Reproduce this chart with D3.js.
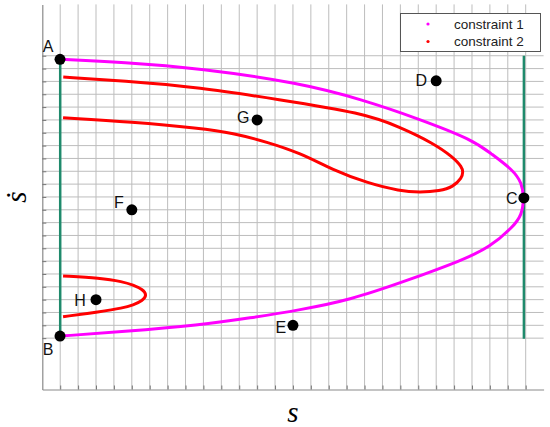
<!DOCTYPE html>
<html>
<head>
<meta charset="utf-8">
<script src="https://cdn.jsdelivr.net/npm/d3@7"></script>
<style>
  body { margin: 0; background: #fff; }
  svg text { font-family: "Liberation Sans", Arial, sans-serif; }
</style>
</head>
<body>
<div id="chart"></div>
<script>
// curves in grid units [s, sdot]

// constraint 1: one sweep from A round C to B
const constraint1 = [
  [0.99, 25.72], [4.5, 25.5], [8.81, 25.02], [14.39, 23.88], [17.91, 22.57],
  [21.0, 21.1], [24.06, 19.44], [25.01, 18.43], [26.29, 17.11], [26.79, 16.09],
  [26.9, 14.92], [26.79, 13.6], [26.29, 12.66], [25.01, 11.1], [23.5, 10.09],
  [20.3, 8.45], [17.19, 6.97], [14.4, 6.2], [11.6, 5.57], [8.81, 5.02],
  [4.5, 4.5], [0.99, 4.16]
];

// constraint 2, big loop: outer branch, tip, inner branch back to the left
const constraint2Big = [
  [1.17, 24.34], [4.5, 24.05], [8.81, 23.54], [13.16, 22.59], [17.91, 21.54],
  [19.98, 20.45], [21.82, 19.2], [22.94, 18.11], [23.44, 17.33], [23.5, 16.95],
  [23.44, 16.48], [22.94, 15.78], [22.21, 15.47], [21.1, 15.36], [19.98, 15.46],
  [18.14, 16.09], [16.24, 17.1], [14.39, 18.43], [12.55, 19.28], [10.65, 19.98],
  [8.81, 20.35], [5.0, 20.85], [1.16, 21.17]
];

// constraint 2, small loop round H
const constraint2Small = [
  [1.16, 8.84], [3.22, 8.69], [4.5, 8.4], [5.07, 8.14], [5.6, 7.8], [5.85, 7.36],
  [5.6, 6.92], [5.07, 6.58], [4.5, 6.35], [3.22, 6.06], [1.16, 5.67]
];

const bounds = [
  {s: 1, y0: 4.16, y1: 25.72},
  {s: 26.9, y0: 3.95, y1: 26.0}
];

const points = [
  {name: "A", s: 0.99, v: 25.72, dx: -12, dy: -7},
  {name: "B", s: 0.99, v: 4.16, dx: -12, dy: 19},
  {name: "C", s: 26.9, v: 14.92, dx: -12, dy: 6},
  {name: "D", s: 22, v: 24.05, dx: -15, dy: 5},
  {name: "E", s: 14, v: 5.0, dx: -12, dy: 8},
  {name: "F", s: 5, v: 14.0, dx: -13, dy: -2},
  {name: "G", s: 12, v: 21.0, dx: -14, dy: 3},
  {name: "H", s: 3, v: 7.0, dx: -16, dy: 6}
];

const legendItems = [
  {label: "constraint 1", color: "#ff00ff"},
  {label: "constraint 2", color: "#ff0000"}
];

const width = 550, height = 427;

let svg = d3.select("#chart").append("svg")
  .attr("width", width)
  .attr("height", height);

let x = d3.scaleLinear().domain([0, 28]).range([42.3, 543.6]);
let y = d3.scaleLinear().domain([0, 30]).range([389.5, 4.4]);

// grid
svg.append("g").selectAll("line")
  .data(d3.range(1, 28))
  .join("line")
  .attr("x1", d => x(d)).attr("x2", d => x(d))
  .attr("y1", y(30)).attr("y2", y(0))
  .attr("stroke", "#bdbdbd").attr("stroke-width", 1);

svg.append("g").selectAll("line")
  .data(d3.range(4, 27))
  .join("line")
  .attr("x1", x(0)).attr("x2", x(28))
  .attr("y1", d => y(d)).attr("y2", d => y(d))
  .attr("stroke", "#bdbdbd").attr("stroke-width", 1);

// axes, ticks point inwards
let xAxis = d3.axisBottom(x).tickValues(d3.range(1, 28)).tickSizeInner(-4).tickSizeOuter(0).tickFormat("");
let yAxis = d3.axisLeft(y).tickValues(d3.range(4, 27)).tickSizeInner(-4).tickSizeOuter(0).tickFormat("");

let gx = svg.append("g").attr("transform", "translate(0," + y(0) + ")").call(xAxis);
let gy = svg.append("g").attr("transform", "translate(" + x(0) + ",0)").call(yAxis);
[gx, gy].forEach(g => {
  g.select(".domain").attr("stroke", "#8a8a8a").attr("stroke-width", 1.2);
  g.selectAll(".tick line").attr("stroke", "#777");
});

// boundary lines
svg.append("g").selectAll("line")
  .data(bounds)
  .join("line")
  .attr("x1", d => x(d.s)).attr("x2", d => x(d.s))
  .attr("y1", d => y(d.y0)).attr("y2", d => y(d.y1))
  .attr("stroke", "#1f8a6c").attr("stroke-width", 2.5);

// curves (b-spline smooths out small reading errors)
let line = d3.line().x(d => x(d[0])).y(d => y(d[1])).curve(d3.curveBasis);

svg.append("path").datum(constraint1)
  .attr("d", line).attr("fill", "none")
  .attr("stroke", "#ff00ff").attr("stroke-width", 3);

[constraint2Big, constraint2Small].forEach(c => {
  svg.append("path").datum(c)
    .attr("d", line).attr("fill", "none")
    .attr("stroke", "#ff0000").attr("stroke-width", 3);
});

// points
svg.append("g").selectAll("circle")
  .data(points)
  .join("circle")
  .attr("cx", d => x(d.s)).attr("cy", d => y(d.v))
  .attr("r", 5.5).attr("fill", "#000");

svg.append("g").selectAll("text")
  .data(points)
  .join("text")
  .attr("x", d => x(d.s) + d.dx).attr("y", d => y(d.v) + d.dy)
  .attr("text-anchor", "middle")
  .attr("font-size", 16)
  .attr("fill", "#111")
  .text(d => d.name);

// legend
let lg = svg.append("g");
lg.append("rect")
  .attr("x", 400.5).attr("y", 13.5).attr("width", 140).attr("height", 38)
  .attr("fill", "#fff").attr("stroke", "#555").attr("stroke-width", 1);

lg.selectAll("circle")
  .data(legendItems)
  .join("circle")
  .attr("cx", 428).attr("cy", (d, i) => 24 + i * 17.5)
  .attr("r", 1.6).attr("fill", d => d.color);

lg.selectAll("text")
  .data(legendItems)
  .join("text")
  .attr("x", 454).attr("y", (d, i) => 28.5 + i * 17.5)
  .attr("font-size", 13.5)
  .attr("fill", "#222")
  .text(d => d.label);

// axis labels
svg.append("text")
  .attr("x", 293).attr("y", 422)
  .attr("text-anchor", "middle")
  .style("font-family", "'Liberation Serif', serif")
  .style("font-style", "italic")
  .attr("font-size", 29)
  .text("s");

svg.append("text")
  .attr("transform", "translate(26,197) rotate(-90)")
  .attr("text-anchor", "middle")
  .style("font-family", "'Liberation Serif', serif")
  .style("font-style", "italic")
  .attr("font-size", 29)
  .text("ṡ");
</script>
</body>
</html>
